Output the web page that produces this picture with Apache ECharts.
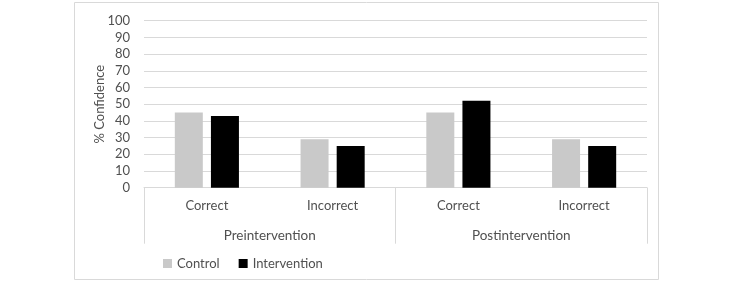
<!DOCTYPE html>
<html>
<head>
<meta charset="utf-8">
<script src="https://cdn.jsdelivr.net/npm/echarts@6/dist/echarts.min.js"></script>
<style>
  html, body { margin: 0; padding: 0; background: #fff; }
  #chart { width: 733px; height: 287px; }
</style>
</head>
<body>
<div id="chart"></div>
<script>
// data
const subCategories = ['Correct', 'Incorrect', 'Correct', 'Incorrect']
const groups = ['Preintervention', 'Postintervention']
const controlValues = [45, 29, 45, 29]
const interventionValues = [43, 25, 52, 25]

const textColor = '#505050'
const lineColor = '#d9d9d9'
const fontFamily = 'Lato, "Open Sans", sans-serif'

const chart = echarts.init(document.getElementById('chart'))

chart.setOption({
  animation: false,
  textStyle: { fontFamily: fontFamily },
  graphic: [
    {
      // outer chart frame
      type: 'rect',
      shape: { x: 74.5, y: 2.5, width: 584, height: 277 },
      style: { fill: 'none', stroke: lineColor, lineWidth: 1 },
      silent: true
    }
  ],
  grid: {
    left: 144,
    right: 86,
    top: 20.7,
    bottom: 99.3,
    containLabel: false
  },
  legend: {
    left: 158,
    top: 252,
    icon: 'rect',
    itemWidth: 9,
    itemHeight: 9,
    itemGap: 19,
    textStyle: { color: textColor, fontSize: 13, fontFamily: fontFamily },
    data: ['Control', 'Intervention']
  },
  xAxis: [
    {
      type: 'category',
      data: subCategories,
      axisLine: { lineStyle: { color: lineColor, width: 1 } },
      axisTick: { show: false },
      axisLabel: { color: textColor, fontSize: 13, margin: 12 }
    },
    {
      type: 'category',
      data: groups,
      position: 'bottom',
      axisLine: { show: false },
      axisTick: { show: true, length: 56, lineStyle: { color: lineColor, width: 1 } },
      axisLabel: { color: textColor, fontSize: 13.5, margin: 41 },
      splitLine: { show: false }
    }
  ],
  yAxis: {
    type: 'value',
    min: 0,
    max: 100,
    interval: 10,
    name: '% Confidence',
    nameLocation: 'middle',
    nameGap: 38,
    nameRotate: 90,
    nameMoveOverlap: false,
    nameTextStyle: { color: textColor, fontSize: 13 },
    axisLine: { show: false },
    axisTick: { show: false },
    axisLabel: { color: textColor, fontSize: 13, margin: 14 },
    splitLine: { lineStyle: { color: lineColor, width: 1 } }
  },
  series: [
    {
      name: 'Control',
      type: 'bar',
      xAxisIndex: 0,
      barWidth: 28,
      barGap: '29%',
      itemStyle: { color: '#c9c9c9' },
      data: controlValues
    },
    {
      name: 'Intervention',
      type: 'bar',
      xAxisIndex: 0,
      barWidth: 28,
      barGap: '29%',
      itemStyle: { color: '#000000' },
      data: interventionValues
    }
  ]
})
</script>
</body>
</html>
